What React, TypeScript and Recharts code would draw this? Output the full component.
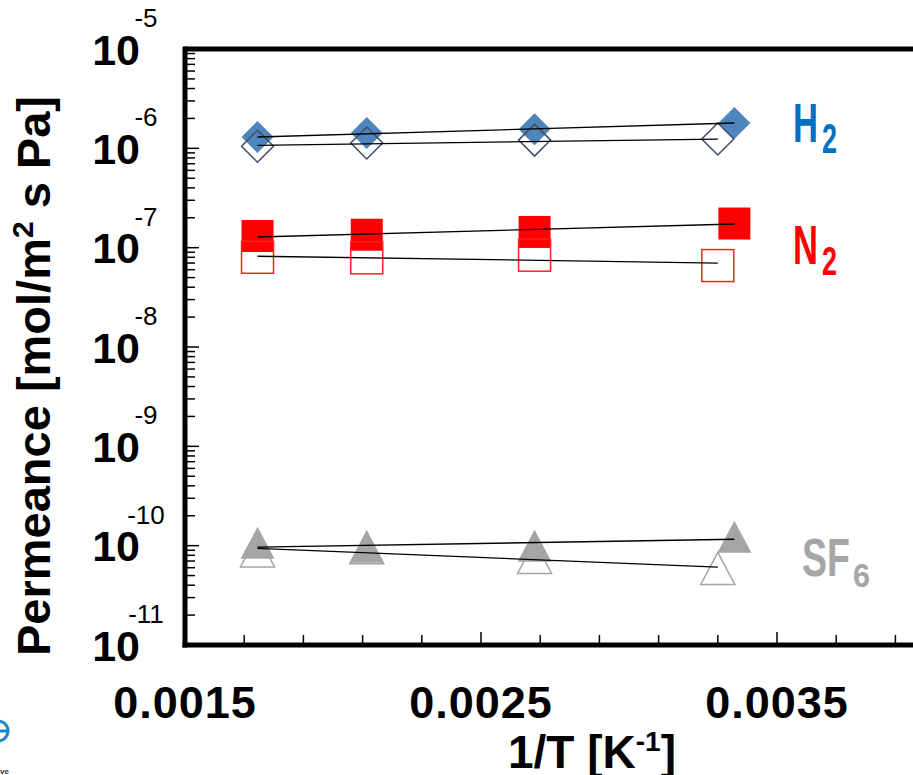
import React from 'react';
import { ScatterChart, Scatter, XAxis, YAxis, ReferenceLine } from 'recharts';

// 1/T [K^-1]: 573 K, 473 K, 373 K, 298 K (open symbols last point at 303 K)
const invTFilled = [0.001745, 0.002114, 0.002681, 0.003356];
const invTOpen = [0.001745, 0.002114, 0.002681, 0.0033];

// permeance [mol/m2 s Pa]
const h2Filled = [1.3e-6, 1.43e-6, 1.56e-6, 1.8e-6];
const h2Open = [1.05e-6, 1.13e-6, 1.21e-6, 1.24e-6];
const n2Filled = [1.31e-7, 1.35e-7, 1.44e-7, 1.75e-7];
const n2Open = [8.0e-8, 7.9e-8, 8.4e-8, 6.6e-8];
const sf6Filled = [9.4e-11, 8.6e-11, 8.8e-11, 1.08e-10];
const sf6Open = [7.8e-11, 8.4e-11, 6.7e-11, 5.2e-11];

// fitted lines, value at first and last temperature
const h2FilledFit = [1.3e-6, 1.8e-6];
const h2OpenFit = [1.07e-6, 1.24e-6];
const n2FilledFit = [1.28e-7, 1.73e-7];
const n2OpenFit = [8.2e-8, 7.0e-8];
const sf6FilledFit = [9.66e-11, 1.16e-10];
const sf6OpenFit = [9.4e-11, 6.07e-11];

const xTicks = [0.0015, 0.0017, 0.0019, 0.0021, 0.0023, 0.0025, 0.0027, 0.0029, 0.0031, 0.0033, 0.0035, 0.0037, 0.0039];
const xLabels = ['0.0015', '0.0025', '0.0035'];
const yDecades = [-11, -10, -9, -8, -7, -6, -5];

const yTicks: number[] = [];
yDecades.forEach((d) => {
  yTicks.push(Math.pow(10, d));
  if (d < -5) for (let m = 2; m <= 9; m++) yTicks.push(m * Math.pow(10, d));
});

const pts = (xs: number[], ys: number[]) => ys.map((y, i) => ({ x: xs[i], y }));
const fit = (xs: number[], ys: number[]) => [{ x: xs[0], y: ys[0] }, { x: xs[xs.length - 1], y: ys[1] }];

const PLOT_LEFT = 185;
const PLOT_BOTTOM = 645;
const FONT = '"Liberation Sans", Arial, sans-serif';
const NARROW = '"Liberation Sans Narrow", "Liberation Sans", Arial, sans-serif';

const Diamond = ({ cx, cy, fill, stroke }: any) => (
  <path d={`M${cx},${cy - 16}L${cx + 16},${cy}L${cx},${cy + 16}L${cx - 16},${cy}Z`} fill={fill} stroke={stroke} strokeWidth={1.5} />
);
const Square = ({ cx, cy, fill, stroke }: any) => (
  <rect x={cx - 16} y={cy - 16} width={32} height={32} fill={fill} stroke={stroke} strokeWidth={1.5} />
);
const Triangle = ({ cx, cy, fill, stroke }: any) => (
  <path d={`M${cx},${cy - 21.5}L${cx + 17},${cy + 10.5}L${cx - 17},${cy + 10.5}Z`} fill={fill} stroke={stroke} strokeWidth={1.5} />
);
const Nothing = () => <g />;

const YTick = ({ y, payload }: any) => {
  const v = payload.value;
  const e = Math.round(Math.log10(v));
  const major = Math.abs(Math.log10(v) - e) < 1e-6;
  return (
    <g>
      <line x1={PLOT_LEFT} x2={PLOT_LEFT + (major ? 14 : 10)} y1={y} y2={y} stroke="#000" strokeWidth={1.5} />
      {major && (
        <g fontFamily={FONT} fill="#000">
          <text x={140} y={y + 15.5} textAnchor="end" fontSize={43} fontWeight="bold">10</text>
          <text x={146} y={y - 22} textAnchor="middle" fontSize={26}>{String(e)}</text>
        </g>
      )}
    </g>
  );
};

const XTick = ({ x, payload }: any) => {
  const v = payload.value;
  const label = xLabels.find((l) => Math.abs(parseFloat(l) - v) < 1e-9);
  return (
    <g>
      <line x1={x} x2={x} y1={PLOT_BOTTOM} y2={PLOT_BOTTOM - (label ? 13 : 10)} stroke="#000" strokeWidth={1.5} />
      {label && (
        <text x={x} y={718} textAnchor="middle" fontSize={45} fontWeight="bold" fontFamily={FONT} fill="#000" letterSpacing={1}>
          {label}
        </text>
      )}
    </g>
  );
};

const fitLine = { stroke: '#000', strokeWidth: 1.3 };

export default function App() {
  return (
    <div style={{ position: 'fixed', left: 0, top: 0, width: 913, height: 775, overflow: 'hidden', background: '#fff' }}>
      <ScatterChart width={1000} height={775} margin={{ top: 49, right: 75, bottom: 70, left: 85 }}>
        <XAxis
          dataKey="x"
          type="number"
          domain={[0.0015, 0.004]}
          ticks={xTicks}
          interval={0}
          tick={XTick}
          tickLine={false}
          axisLine={{ stroke: '#000', strokeWidth: 5, strokeLinecap: 'square' }}
          height={60}
        />
        <YAxis
          dataKey="y"
          type="number"
          scale="log"
          domain={[1e-11, 1e-5]}
          allowDataOverflow
          ticks={yTicks}
          interval={0}
          tick={YTick}
          tickLine={false}
          axisLine={{ stroke: '#000', strokeWidth: 5, strokeLinecap: 'square' }}
          width={100}
        />
        <ReferenceLine y={1e-5} stroke="#000" strokeWidth={5} />

        <Scatter data={pts(invTFilled, h2Filled)} shape={(p: any) => <Diamond {...p} fill="#4f85bd" stroke="none" />} isAnimationActive={false} />
        <Scatter data={pts(invTOpen, h2Open)} shape={(p: any) => <Diamond {...p} fill="none" stroke="#3d4c68" />} isAnimationActive={false} />
        <Scatter data={pts(invTFilled, n2Filled)} shape={(p: any) => <Square {...p} fill="#ff0000" stroke="none" />} isAnimationActive={false} />
        <Scatter data={pts(invTOpen, n2Open)} shape={(p: any) => <Square {...p} fill="none" stroke="#ff2020" />} isAnimationActive={false} />
        <Scatter data={pts(invTFilled, sf6Filled)} shape={(p: any) => <Triangle {...p} fill="#a5a5a5" stroke="none" />} isAnimationActive={false} />
        <Scatter data={pts(invTOpen, sf6Open)} shape={(p: any) => <Triangle {...p} fill="none" stroke="#a5a5a5" />} isAnimationActive={false} />

        <Scatter data={fit(invTFilled, h2FilledFit)} line={fitLine} shape={Nothing} isAnimationActive={false} />
        <Scatter data={fit(invTOpen, h2OpenFit)} line={fitLine} shape={Nothing} isAnimationActive={false} />
        <Scatter data={fit(invTFilled, n2FilledFit)} line={fitLine} shape={Nothing} isAnimationActive={false} />
        <Scatter data={fit(invTOpen, n2OpenFit)} line={fitLine} shape={Nothing} isAnimationActive={false} />
        <Scatter data={fit(invTFilled, sf6FilledFit)} line={fitLine} shape={Nothing} isAnimationActive={false} />
        <Scatter data={fit(invTOpen, sf6OpenFit)} line={fitLine} shape={Nothing} isAnimationActive={false} />
      </ScatterChart>

      <svg width={913} height={775} style={{ position: 'absolute', left: 0, top: 0, pointerEvents: 'none' }}>
        {/* axis titles */}
        <text transform="translate(50,376) rotate(-90)" textAnchor="middle" fontSize={47} fontWeight="bold" fontFamily={FONT} fill="#000">
          Permeance [mol/m<tspan dy={-17} fontSize={30}>2</tspan><tspan dy={17}> s Pa]</tspan>
        </text>
        <text x={592} y={768} textAnchor="middle" fontSize={46} fontWeight="bold" fontFamily={FONT} fill="#000">
          1/T [K<tspan dy={-17} fontSize={28}>-1</tspan><tspan dy={17}>]</tspan>
        </text>

        {/* gas labels */}
        <g fontFamily={NARROW} fontWeight="bold">
          <text x={793} y={142} fontSize={55} fill="#0070c0" textLength={25} lengthAdjust="spacingAndGlyphs">H</text>
          <text x={822} y={153} fontSize={42} fill="#0070c0" textLength={15} lengthAdjust="spacingAndGlyphs">2</text>
          <text x={793} y={264} fontSize={55} fill="#ff0000" textLength={25} lengthAdjust="spacingAndGlyphs">N</text>
          <text x={822} y={275} fontSize={40} fill="#ff0000" textLength={15} lengthAdjust="spacingAndGlyphs">2</text>
          <text x={802} y={576} fontSize={54} fill="#a6a6a6" textLength={48} lengthAdjust="spacingAndGlyphs">SF</text>
          <text x={853} y={587} fontSize={34} fill="#a6a6a6" textLength={17} lengthAdjust="spacingAndGlyphs">6</text>
        </g>

        {/* cropped logo in corner */}
        <circle cx={-2} cy={731} r={10} fill="none" stroke="#1a86d0" strokeWidth={3} />
        <line x1={-2} x2={8} y1={731} y2={731} stroke="#1a86d0" strokeWidth={3} />
        <text x={0} y={774} fontSize={8} fontWeight="bold" fontFamily={FONT} fill="#333">ve</text>
      </svg>
    </div>
  );
}
